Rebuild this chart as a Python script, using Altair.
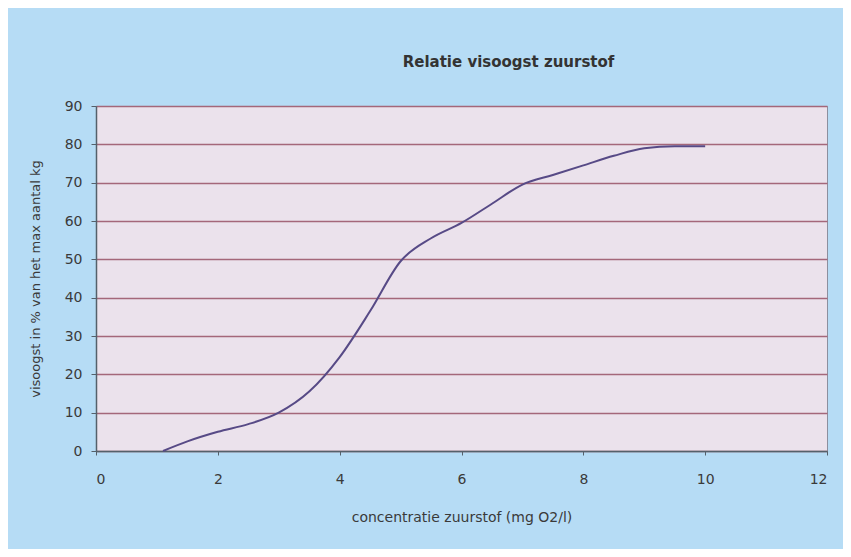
import altair as alt
import pandas as pd

# data
concentratie = [1.1, 1.5, 2.0, 2.5, 3.0, 3.5, 4.0, 4.5, 5.0, 5.5, 6.0, 6.5, 7.0, 7.5, 8.0, 8.5, 9.0, 9.5, 10.0]
visoogst = [0.0, 2.5, 5.0, 7.0, 10.0, 15.5, 24.5, 36.5, 49.5, 55.5, 59.5, 64.5, 69.5, 72.0, 74.5, 77.0, 79.0, 79.5, 79.5]

x_ticks = [0, 2, 4, 6, 8, 10, 12]
y_ticks = [0, 10, 20, 30, 40, 50, 60, 70, 80, 90]

df = pd.DataFrame({"x": concentratie, "y": visoogst})

FONT = "DejaVu Sans"
TXT = "#3a3a3a"
W, H = 731, 345

chart = (
    alt.Chart(df)
    .mark_line(interpolate="monotone", color="#574a86", strokeWidth=2)
    .encode(
        x=alt.X(
            "x:Q",
            scale=alt.Scale(domain=[0, 12], nice=False),
            axis=alt.Axis(
                values=x_ticks,
                title="concentratie zuurstof (mg O2/l)",
                grid=False,
                domainColor="#55606a",
                domainWidth=1.5,
                tickColor="#55606a",
                tickSize=4,
                labelFont=FONT,
                labelFontSize=14,
                labelColor=TXT,
                labelPadding=17,
                titleFont=FONT,
                titleFontSize=14,
                titleFontWeight="normal",
                titleColor=TXT,
                titleX=W / 2,
                titleY=66,
                titleBaseline="middle",
            ),
        ),
        y=alt.Y(
            "y:Q",
            scale=alt.Scale(domain=[0, 90], nice=False),
            axis=alt.Axis(
                values=y_ticks,
                title="visoogst in % van het max aantal kg",
                grid=True,
                gridColor="#a4677a",
                gridWidth=1.6,
                domainColor="#55606a",
                domainWidth=1.5,
                tickColor="#55606a",
                tickSize=5,
                labelFont=FONT,
                labelFontSize=14,
                labelColor=TXT,
                labelPadding=9,
                titleFont=FONT,
                titleFontSize=13,
                titleFontWeight="normal",
                titleColor=TXT,
                titleX=-61,
                titleY=H / 2,
                titleAngle=-90,
                titleBaseline="middle",
                titleAlign="center",
            ),
        ),
    )
    .properties(
        width=W,
        height=H,
        title=alt.TitleParams(
            "Relatie visoogst zuurstof",
            font=FONT,
            fontSize=15,
            fontWeight="bold",
            color="#333333",
            anchor="middle",
            dx=47,
            offset=29,
        ),
        autosize=alt.AutoSizeParams(type="none"),
        padding={"left": 88, "top": 98, "right": 16, "bottom": 98},
        background="#b6dcf5",
    )
    .configure_view(fill="#ebe2ec", stroke="#8c8f9e", strokeWidth=1)
)

chart.save("out.html", embed_options={"renderer": "svg", "actions": False})
